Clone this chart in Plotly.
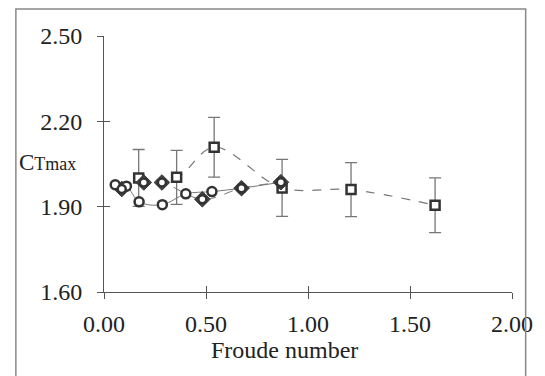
import plotly.graph_objects as go

# Squares series (with error bars)
sq_x = [0.170, 0.356, 0.540, 0.873, 1.211, 1.623]
sq_y = [2.001, 2.003, 2.109, 1.966, 1.960, 1.905]
sq_err = [0.100, 0.095, 0.105, 0.100, 0.095, 0.096]

# Filled diamond series
dm_x = [0.087, 0.195, 0.284, 0.482, 0.674, 0.867]
dm_y = [1.962, 1.985, 1.985, 1.926, 1.965, 1.986]

# Open circle series
ci_x = [0.055, 0.110, 0.172, 0.286, 0.401, 0.529, 0.674, 0.867]
ci_y = [1.977, 1.972, 1.917, 1.907, 1.945, 1.953, 1.965, 1.986]

x_ticks = [0.0, 0.5, 1.0, 1.5, 2.0]
y_ticks = [1.60, 1.90, 2.20, 2.50]

dark = "#333333"
grey = "#777777"
axc = "#555555"

fig = go.Figure()

fig.add_trace(go.Scatter(
    x=ci_x, y=ci_y, mode="lines", line=dict(color=grey, width=1, shape="spline"),
    hoverinfo="skip", showlegend=False))
fig.add_trace(go.Scatter(
    x=dm_x, y=dm_y, mode="lines", line=dict(color=grey, width=1, dash="dash", shape="spline"),
    hoverinfo="skip", showlegend=False))
fig.add_trace(go.Scatter(
    x=sq_x, y=sq_y, mode="lines", line=dict(color=grey, width=1.2, dash="dash", shape="spline"),
    hoverinfo="skip", showlegend=False))

fig.add_trace(go.Scatter(
    x=sq_x, y=sq_y, mode="markers",
    marker=dict(symbol="square", size=9, color="white", line=dict(color=dark, width=2.5)),
    error_y=dict(type="data", array=sq_err, visible=True, color=grey, thickness=1.3, width=6),
    showlegend=False))
fig.add_trace(go.Scatter(
    x=dm_x, y=dm_y, mode="markers",
    marker=dict(symbol="diamond", size=12, color="#444444", line=dict(color=dark, width=1)),
    showlegend=False))
fig.add_trace(go.Scatter(
    x=ci_x, y=ci_y, mode="markers",
    marker=dict(symbol="circle", size=9, color="white", line=dict(color=dark, width=2.5)),
    showlegend=False))
fig.add_trace(go.Scatter(
    x=dm_x, y=dm_y, mode="markers",
    marker=dict(symbol="circle", size=8, color="white", line=dict(color=dark, width=2.5)),
    showlegend=False))

font = "Liberation Serif, Times New Roman, serif"

fig.update_layout(
    width=537, height=368,
    margin=dict(l=96, r=25, t=28, b=84),
    paper_bgcolor="white", plot_bgcolor="white",
    font=dict(family=font, color="#222222"),
    xaxis=dict(range=[0, 2], tickvals=x_ticks, tickformat=".2f", showgrid=False, zeroline=False,
               showline=True, linecolor=axc, linewidth=1, ticks="outside", ticklen=6,
               tickcolor=axc, tickfont=dict(size=24, family=font, color="#222222"),
               ticklabelstandoff=4, ticklabeloverflow="allow"),
    yaxis=dict(range=[1.6, 2.5], tickvals=y_ticks, tickformat=".2f", showgrid=False, zeroline=False,
               showline=True, linecolor=axc, linewidth=1, ticks="outside", ticklen=6,
               tickcolor=axc, tickfont=dict(size=24, family=font, color="#222222"),
               ticklabelstandoff=10, ticklabeloverflow="allow"),
    xaxis2=dict(range=[0, 2], tickvals=x_ticks, showticklabels=False, showgrid=False, zeroline=False,
                overlaying="x", side="bottom", anchor="y", ticks="inside", ticklen=6, tickcolor=axc,
                showline=False),
    yaxis2=dict(range=[1.6, 2.5], tickvals=y_ticks, showticklabels=False, showgrid=False, zeroline=False,
                overlaying="y", side="left", anchor="x", ticks="inside", ticklen=6, tickcolor=axc,
                showline=False),
    shapes=[dict(type="rect", xref="paper", yref="paper", x0=-0.216, x1=1.0335, y0=-0.36, y1=1.1056,
                 line=dict(color="#888888", width=1.5))],
    annotations=[
        dict(text="Froude number", xref="paper", yref="paper", x=0.442, y=-0.228,
             showarrow=False, font=dict(size=24, family=font, color="#222222"),
             xanchor="center", yanchor="middle"),
        dict(text="C<span style='font-size:18px'>Tmax</span>", xref="paper", yref="paper",
             x=-0.138, y=0.507, showarrow=False, font=dict(size=23, family=font, color="#222222"),
             xanchor="center", yanchor="middle"),
    ],
)

# invisible trace to activate the secondary (inside-tick) axes
fig.add_trace(go.Scatter(x=[None], y=[None], xaxis="x2", yaxis="y2", showlegend=False,
                         hoverinfo="skip"))

fig.write_html("out.html")
